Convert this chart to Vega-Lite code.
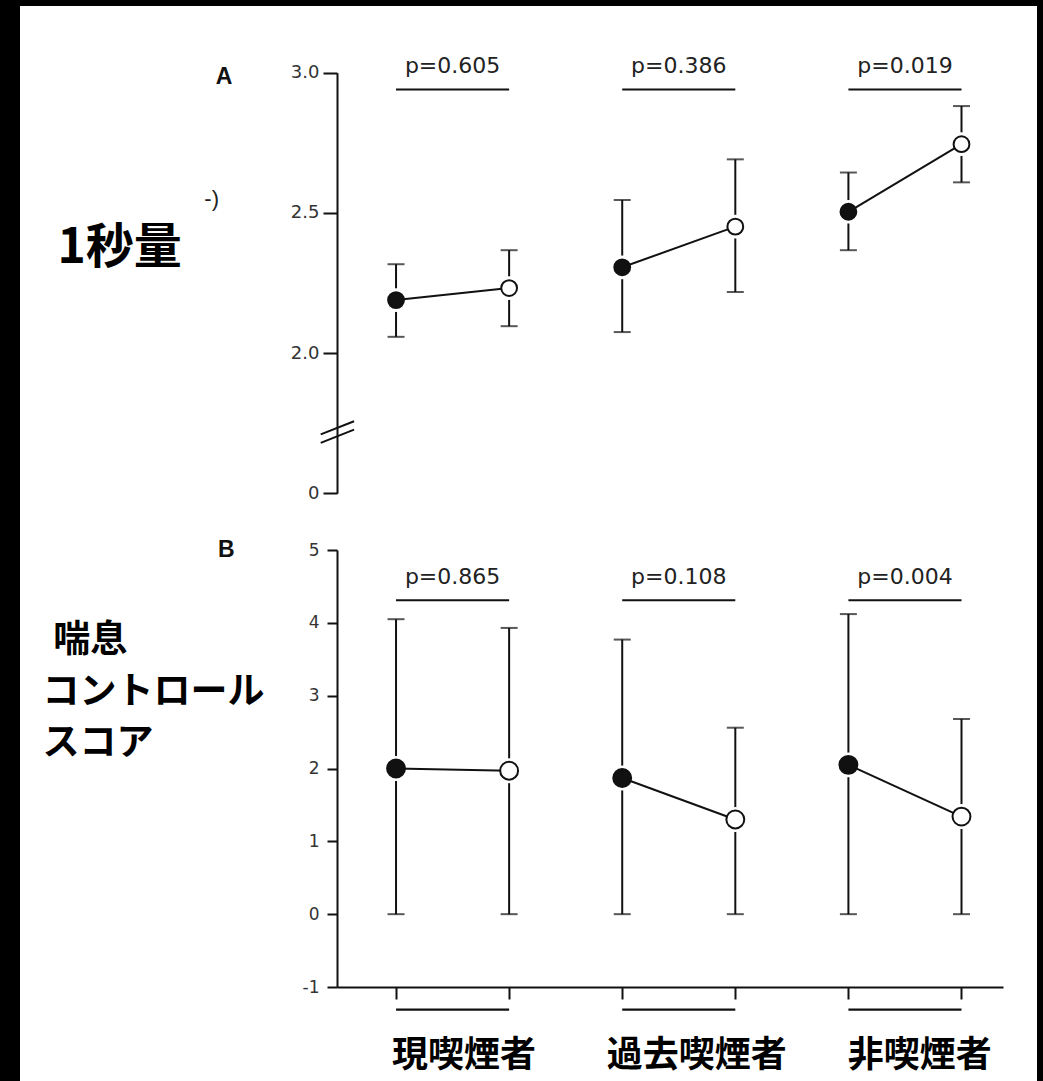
{
  "$schema": "https://vega.github.io/schema/vega-lite/v6.json",
  "width": 1017,
  "height": 1075,
  "autosize": {"type": "none"},
  "padding": {"left": 20, "top": 6, "right": 6, "bottom": 0},
  "background": "#000000",
  "config": {
    "view": {"fill": "#ffffff", "stroke": null},
    "axis": {"grid": false, "domainColor": "#111111", "domainWidth": 2, "tickColor": "#111111", "tickWidth": 2, "labelFont": "DejaVu Sans", "labelColor": "#333333", "labelFlush": false, "labelOverlap": false}
  },
  "datasets": {
    "a": [
      {"g": "現喫煙者", "pos": 1, "s": "filled", "m": 2.189, "lo": 2.058, "hi": 2.317},
      {"g": "現喫煙者", "pos": 2, "s": "open", "m": 2.232, "lo": 2.096, "hi": 2.367},
      {"g": "過去喫煙者", "pos": 3, "s": "filled", "m": 2.306, "lo": 2.075, "hi": 2.546},
      {"g": "過去喫煙者", "pos": 4, "s": "open", "m": 2.451, "lo": 2.218, "hi": 2.691},
      {"g": "非喫煙者", "pos": 5, "s": "filled", "m": 2.504, "lo": 2.367, "hi": 2.644},
      {"g": "非喫煙者", "pos": 6, "s": "open", "m": 2.745, "lo": 2.609, "hi": 2.881}
    ],
    "b": [
      {"g": "現喫煙者", "pos": 1, "s": "filled", "m": 2.0, "lo": 0, "hi": 4.05},
      {"g": "現喫煙者", "pos": 2, "s": "open", "m": 1.97, "lo": 0, "hi": 3.93},
      {"g": "過去喫煙者", "pos": 3, "s": "filled", "m": 1.87, "lo": 0, "hi": 3.77},
      {"g": "過去喫煙者", "pos": 4, "s": "open", "m": 1.3, "lo": 0, "hi": 2.56},
      {"g": "非喫煙者", "pos": 5, "s": "filled", "m": 2.05, "lo": 0, "hi": 4.12},
      {"g": "非喫煙者", "pos": 6, "s": "open", "m": 1.34, "lo": 0, "hi": 2.68}
    ],
    "pa": [
      {"pos": 1, "pos2": 2, "mid": 1.5, "p": "p=0.605"},
      {"pos": 3, "pos2": 4, "mid": 3.5, "p": "p=0.386"},
      {"pos": 5, "pos2": 6, "mid": 5.5, "p": "p=0.019"}
    ],
    "pb": [
      {"pos": 1, "pos2": 2, "mid": 1.5, "p": "p=0.865"},
      {"pos": 3, "pos2": 4, "mid": 3.5, "p": "p=0.108"},
      {"pos": 5, "pos2": 6, "mid": 5.5, "p": "p=0.004"}
    ],
    "cats": [
      {"pos": 1, "pos2": 2, "mid": 1.6, "cat": "現喫煙者"},
      {"pos": 3, "pos2": 4, "mid": 3.66, "cat": "過去喫煙者"},
      {"pos": 5, "pos2": 6, "mid": 5.63, "cat": "非喫煙者"}
    ]
  },
  "layer": [
    {
      "data": {"name": "a"},
      "layer": [
        {
          "mark": {"type": "rule", "strokeWidth": 2, "color": "#111111"},
          "encoding": {
            "x": {"field": "pos", "type": "quantitative", "scale": {"domain": [0.478, 6.367], "range": [317, 983], "nice": false, "zero": false}, "axis": {"values": [1, 2, 3, 4, 5, 6], "labels": false, "title": "", "tickSize": 12, "offset": -94, "orient": "bottom"}},
            "y": {
              "field": "lo", "type": "quantitative",
              "scale": {"domain": [1.5, 3.0], "range": [487.3, 66.7], "nice": false, "zero": false},
              "axis": {
                "values": [1.5, 2.0, 2.5, 3.0],
                "labelExpr": "datum.value == 1.5 ? '0' : format(datum.value, '.1f')",
                "orient": "left", "offset": -317, "tickSize": 14, "labelPadding": 4, "labelFontSize": 18,
                "title": "1秒量", "titleAngle": 0, "titleAlign": "left", "titleBaseline": "middle",
                "titleX": -280, "titleY": 242, "titleFont": "Noto Sans CJK JP", "titleFontSize": 48,
                "titleFontWeight": "bold", "titleColor": "#000000"
              }
            },
            "y2": {"field": "hi"}
          }
        },
        {
          "mark": {"type": "tick", "orient": "horizontal", "size": 17, "thickness": 2, "color": "#111111"},
          "encoding": {"x": {"field": "pos", "type": "quantitative"}, "y": {"field": "lo", "type": "quantitative"}}
        },
        {
          "mark": {"type": "tick", "orient": "horizontal", "size": 17, "thickness": 2, "color": "#111111"},
          "encoding": {"x": {"field": "pos", "type": "quantitative"}, "y": {"field": "hi", "type": "quantitative"}}
        },
        {
          "mark": {"type": "circle", "size": 560, "color": "#ffffff", "opacity": 1},
          "encoding": {"x": {"field": "pos", "type": "quantitative"}, "y": {"field": "m", "type": "quantitative"}}
        },
        {
          "mark": {"type": "line", "strokeWidth": 2, "color": "#111111"},
          "encoding": {"x": {"field": "pos", "type": "quantitative"}, "y": {"field": "m", "type": "quantitative"}, "detail": {"field": "g"}}
        },
        {
          "mark": {"type": "circle", "size": 250, "stroke": "#111111", "strokeWidth": 2, "opacity": 1},
          "encoding": {
            "x": {"field": "pos", "type": "quantitative"},
            "y": {"field": "m", "type": "quantitative"},
            "fill": {"field": "s", "type": "nominal", "scale": {"domain": ["filled", "open"], "range": ["#111111", "#ffffff"]}, "legend": null}
          }
        },
        {
          "data": {"name": "pa"},
          "mark": {"type": "rule", "strokeWidth": 2.2, "color": "#111111"},
          "encoding": {"x": {"field": "pos", "type": "quantitative"}, "x2": {"field": "pos2"}, "y": {"datum": 2.94, "type": "quantitative"}}
        },
        {
          "data": {"name": "pa"},
          "mark": {"type": "text", "font": "DejaVu Sans", "fontSize": 22, "color": "#222222", "baseline": "alphabetic", "align": "center"},
          "encoding": {"x": {"field": "mid", "type": "quantitative"}, "y": {"datum": 3.0, "type": "quantitative"}, "text": {"field": "p"}}
        },
        {
          "data": {"values": [{"t": "A"}]},
          "mark": {"type": "text", "font": "Liberation Sans", "fontWeight": "bold", "fontSize": 23, "color": "#111111", "baseline": "middle", "align": "center"},
          "encoding": {"x": {"datum": -0.52, "type": "quantitative"}, "y": {"datum": 2.985, "type": "quantitative"}, "text": {"field": "t"}}
        },
        {
          "data": {"values": [{"t": "-)"}]},
          "mark": {"type": "text", "font": "Liberation Sans", "fontSize": 22, "color": "#222222", "baseline": "middle", "align": "center"},
          "encoding": {"x": {"datum": -0.63, "type": "quantitative"}, "y": {"datum": 2.55, "type": "quantitative"}, "text": {"field": "t"}}
        },
        {
          "data": {"values": [{"t": "break"}]},
          "mark": {"type": "rule", "strokeWidth": 2, "color": "#111111"},
          "encoding": {"x": {"datum": 0.334, "type": "quantitative"}, "x2": {"datum": 0.629}, "y": {"datum": 1.71, "type": "quantitative"}, "y2": {"datum": 1.757}}
        },
        {
          "data": {"values": [{"t": "break"}]},
          "mark": {"type": "rule", "strokeWidth": 2, "color": "#111111"},
          "encoding": {"x": {"datum": 0.334, "type": "quantitative"}, "x2": {"datum": 0.629}, "y": {"datum": 1.68, "type": "quantitative"}, "y2": {"datum": 1.727}}
        }
      ]
    },
    {
      "data": {"name": "b"},
      "layer": [
        {
          "mark": {"type": "rule", "strokeWidth": 2, "color": "#111111"},
          "encoding": {
            "x": {"field": "pos", "type": "quantitative", "scale": {"domain": [0.478, 6.367], "range": [317, 983], "nice": false, "zero": false}, "axis": {"values": [1, 2, 3, 4, 5, 6], "labels": false, "title": "", "tickSize": 12, "offset": -94, "orient": "bottom"}},
            "y": {
              "field": "lo", "type": "quantitative",
              "scale": {"domain": [-1, 5], "range": [981, 544], "nice": false, "zero": false},
              "axis": {
                "values": [-1, 0, 1, 2, 3, 4, 5],
                "labelExpr": "datum.value < 0 ? '-' + abs(datum.value) : '' + datum.value",
                "orient": "left", "offset": -317, "tickSize": 10, "labelPadding": 8, "labelFontSize": 17,
                "title": ["コントロール", "スコア"], "titleAngle": 0, "titleAlign": "left", "titleBaseline": "middle",
                "titleX": -295, "titleY": 686, "titleLineHeight": 51, "titleFont": "Noto Sans CJK JP", "titleFontSize": 37,
                "titleFontWeight": "bold", "titleColor": "#000000"
              }
            },
            "y2": {"field": "hi"}
          }
        },
        {
          "mark": {"type": "tick", "orient": "horizontal", "size": 17, "thickness": 2, "color": "#111111"},
          "encoding": {"x": {"field": "pos", "type": "quantitative"}, "y": {"field": "lo", "type": "quantitative"}}
        },
        {
          "mark": {"type": "tick", "orient": "horizontal", "size": 17, "thickness": 2, "color": "#111111"},
          "encoding": {"x": {"field": "pos", "type": "quantitative"}, "y": {"field": "hi", "type": "quantitative"}}
        },
        {
          "mark": {"type": "circle", "size": 620, "color": "#ffffff", "opacity": 1},
          "encoding": {"x": {"field": "pos", "type": "quantitative"}, "y": {"field": "m", "type": "quantitative"}}
        },
        {
          "mark": {"type": "line", "strokeWidth": 2, "color": "#111111"},
          "encoding": {"x": {"field": "pos", "type": "quantitative"}, "y": {"field": "m", "type": "quantitative"}, "detail": {"field": "g"}}
        },
        {
          "mark": {"type": "circle", "size": 320, "stroke": "#111111", "strokeWidth": 2, "opacity": 1},
          "encoding": {
            "x": {"field": "pos", "type": "quantitative"},
            "y": {"field": "m", "type": "quantitative"},
            "fill": {"field": "s", "type": "nominal", "scale": {"domain": ["filled", "open"], "range": ["#111111", "#ffffff"]}, "legend": null}
          }
        },
        {
          "data": {"name": "pb"},
          "mark": {"type": "rule", "strokeWidth": 2.2, "color": "#111111"},
          "encoding": {"x": {"field": "pos", "type": "quantitative"}, "x2": {"field": "pos2"}, "y": {"datum": 4.31, "type": "quantitative"}}
        },
        {
          "data": {"name": "pb"},
          "mark": {"type": "text", "font": "DejaVu Sans", "fontSize": 22, "color": "#222222", "baseline": "alphabetic", "align": "center"},
          "encoding": {"x": {"field": "mid", "type": "quantitative"}, "y": {"datum": 4.54, "type": "quantitative"}, "text": {"field": "p"}}
        },
        {
          "data": {"name": "cats"},
          "mark": {"type": "rule", "strokeWidth": 2.2, "color": "#111111"},
          "encoding": {"x": {"field": "pos", "type": "quantitative"}, "x2": {"field": "pos2"}, "y": {"datum": -1.31, "type": "quantitative"}}
        },
        {
          "data": {"name": "cats"},
          "mark": {"type": "text", "font": "Noto Sans CJK JP", "fontWeight": "bold", "fontSize": 36, "color": "#000000", "baseline": "middle", "align": "center"},
          "encoding": {"x": {"field": "mid", "type": "quantitative"}, "y": {"datum": -1.95, "type": "quantitative"}, "text": {"field": "cat"}}
        },
        {
          "data": {"values": [{"t": "B"}]},
          "mark": {"type": "text", "font": "Liberation Sans", "fontWeight": "bold", "fontSize": 23, "color": "#111111", "baseline": "middle", "align": "center"},
          "encoding": {"x": {"datum": -0.5, "type": "quantitative"}, "y": {"datum": 5.0, "type": "quantitative"}, "text": {"field": "t"}}
        },
        {
          "data": {"values": [{"t": "喘息"}]},
          "mark": {"type": "text", "font": "Noto Sans CJK JP", "fontWeight": "bold", "fontSize": 37, "color": "#000000", "baseline": "middle", "align": "left"},
          "encoding": {"x": {"datum": -2.03, "type": "quantitative"}, "y": {"datum": 3.75, "type": "quantitative"}, "text": {"field": "t"}}
        }
      ]
    }
  ],
  "resolve": {"scale": {"y": "independent"}, "axis": {"y": "independent"}}
}
